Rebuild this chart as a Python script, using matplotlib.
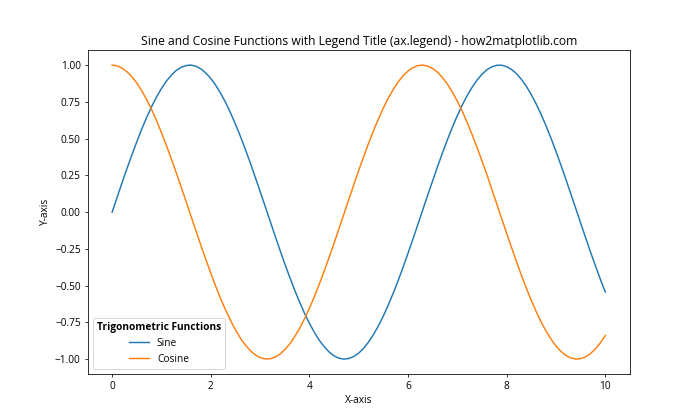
import matplotlib.pyplot as plt

plt.rcParams["font.family"] = ["Open Sans", "DejaVu Sans"]
plt.rcParams["font.size"] = 10.4

# values, x from 0 to 10 in steps of 0.1
x_values = [round(i * 0.1, 1) for i in range(101)]
sine_values = [
    0.000, 0.100, 0.199, 0.296, 0.389, 0.479, 0.565, 0.644, 0.717, 0.783,
    0.841, 0.891, 0.932, 0.964, 0.985, 0.997, 1.000, 0.992, 0.974, 0.946,
    0.909, 0.863, 0.808, 0.746, 0.675, 0.598, 0.516, 0.427, 0.335, 0.239,
    0.141, 0.042, -0.058, -0.158, -0.256, -0.351, -0.443, -0.530, -0.612, -0.688,
    -0.757, -0.818, -0.872, -0.916, -0.952, -0.978, -0.994, -1.000, -0.996, -0.982,
    -0.959, -0.926, -0.883, -0.832, -0.773, -0.706, -0.631, -0.551, -0.465, -0.374,
    -0.279, -0.182, -0.083, 0.017, 0.117, 0.215, 0.312, 0.405, 0.494, 0.579,
    0.657, 0.729, 0.794, 0.850, 0.899, 0.938, 0.969, 0.988, 0.999, 0.999,
    0.989, 0.970, 0.941, 0.902, 0.855, 0.798, 0.734, 0.663, 0.585, 0.501,
    0.412, 0.319, 0.223, 0.124, 0.025, -0.075, -0.174, -0.272, -0.366, -0.458,
    -0.544,
]
cosine_values = [
    1.000, 0.995, 0.980, 0.955, 0.921, 0.878, 0.825, 0.765, 0.697, 0.622,
    0.540, 0.454, 0.362, 0.267, 0.170, 0.071, -0.029, -0.129, -0.227, -0.323,
    -0.416, -0.505, -0.589, -0.666, -0.737, -0.801, -0.857, -0.904, -0.942, -0.971,
    -0.990, -0.999, -0.998, -0.987, -0.967, -0.936, -0.897, -0.848, -0.791, -0.726,
    -0.654, -0.575, -0.490, -0.401, -0.307, -0.211, -0.112, -0.012, 0.087, 0.187,
    0.284, 0.378, 0.469, 0.554, 0.635, 0.709, 0.776, 0.835, 0.886, 0.927,
    0.960, 0.983, 0.997, 1.000, 0.993, 0.977, 0.951, 0.914, 0.870, 0.816,
    0.754, 0.685, 0.608, 0.526, 0.439, 0.347, 0.253, 0.153, 0.054, -0.046,
    -0.146, -0.243, -0.340, -0.431, -0.519, -0.602, -0.679, -0.749, -0.811, -0.865,
    -0.911, -0.948, -0.975, -0.992, -1.000, -0.997, -0.985, -0.962, -0.930, -0.889,
    -0.839,
]
series_labels = ["Sine", "Cosine"]

fig, ax = plt.subplots(figsize=(10, 6), dpi=70)
ax.plot(x_values, sine_values, label=series_labels[0])
ax.plot(x_values, cosine_values, label=series_labels[1])

ax.set_title("Sine and Cosine Functions with Legend Title (ax.legend) - how2matplotlib.com")
ax.set_xlabel("X-axis")
ax.set_ylabel("Y-axis")

ax.legend(title="Trigonometric Functions", loc="lower left",
          title_fontproperties={"weight": "bold", "size": 10.4})

fig.savefig("out.png")
